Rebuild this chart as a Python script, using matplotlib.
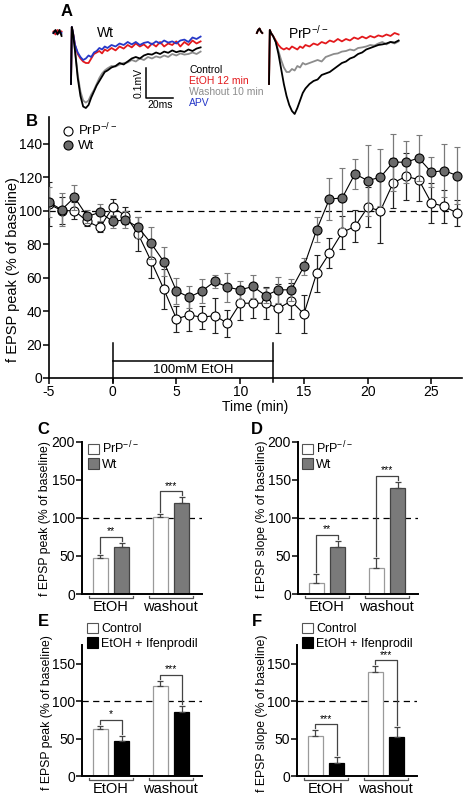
import matplotlib
matplotlib.use("Agg")
import matplotlib.pyplot as plt
from matplotlib.lines import Line2D
from matplotlib.patches import Patch
import numpy as np

plt.rcParams['font.family'] = ['Liberation Sans', 'DejaVu Sans']
plt.rcParams['mathtext.default'] = 'regular'
plt.rcParams['axes.unicode_minus'] = False

W, H = 466, 797
nan = np.nan

# ---------------- A: example traces (ms, mV) ----------------
t_wt = [-13, -11.5, -10, -8.5, -7, -6,
        0, 0.6, 1.5, 3, 5, 7, 9, 11, 13, 15, 17, 19, 21, 23, 25, 27,
        30, 33, 36, 39, 42, 45, 48, 51, 54, 57, 60, 63, 66, 69, 72, 75, 78, 81, 84, 87, 90, 93, 96]
t_prp = [-9, -8, -7, -6, -5, -4,
         0, 0.6, 1.5, 3, 5, 7, 9, 11, 13, 15, 17, 19, 21, 23, 25, 27,
         30, 33, 36, 39, 42, 45, 48, 51, 54, 57, 60, 63, 66, 69, 72, 75, 78, 81, 84, 87, 90, 93, 96]

wt_control = [0.0, 0.01, -0.005, 0.01, -0.01, nan,
              -0.17, 0.02, 0.0, -0.06, -0.15, -0.21, -0.245, -0.25, -0.24, -0.215, -0.195, -0.175, -0.16, -0.145, -0.13, -0.125,
              -0.115, -0.11, -0.1, -0.105, -0.095, -0.085, -0.08, -0.085, -0.075, -0.07, -0.072, -0.065, -0.07, -0.062, -0.066,
              -0.058, -0.064, -0.06, -0.063, -0.055, -0.06, -0.052, -0.048]
wt_washout = [0.0, 0.005, 0.0, 0.01, -0.005, nan,
              -0.17, 0.02, 0.0, -0.06, -0.14, -0.195, -0.225, -0.232, -0.225, -0.205, -0.19, -0.17, -0.15, -0.135, -0.125, -0.118,
              -0.11, -0.112, -0.105, -0.1, -0.098, -0.09, -0.095, -0.085, -0.09, -0.08, -0.085, -0.078, -0.082, -0.075, -0.08,
              -0.07, -0.075, -0.068, -0.072, -0.07, -0.065, -0.07, -0.062]
wt_etoh = [0.005, -0.005, 0.01, 0.0, 0.005, nan,
           -0.17, 0.02, 0.0, -0.04, -0.07, -0.085, -0.095, -0.1, -0.1, -0.085, -0.07, -0.065, -0.06, -0.068, -0.055, -0.06,
           -0.05, -0.058, -0.045, -0.052, -0.04, -0.048, -0.035, -0.045, -0.038, -0.05, -0.035, -0.045, -0.03, -0.045, -0.035,
           -0.04, -0.028, -0.045, -0.03, -0.04, -0.025, -0.035, -0.028]
wt_apv = [0.0, 0.008, -0.003, 0.005, 0.0, nan,
          -0.17, 0.02, 0.0, -0.04, -0.065, -0.08, -0.09, -0.085, -0.075, -0.08, -0.065, -0.06, -0.05, -0.055, -0.045, -0.05,
          -0.04, -0.045, -0.035, -0.04, -0.03, -0.038, -0.03, -0.04, -0.033, -0.03, -0.038, -0.028, -0.035, -0.025, -0.032,
          -0.028, -0.035, -0.025, -0.022, -0.03, -0.015, -0.02, -0.012]

prp_control = [0.0, 0.01, 0.015, 0.005, 0.0, nan,
               -0.17, 0.01, 0.0, -0.01, -0.03, -0.07, -0.12, -0.17, -0.21, -0.24, -0.26, -0.27, -0.25, -0.225, -0.2, -0.185,
               -0.17, -0.16, -0.155, -0.14, -0.135, -0.13, -0.12, -0.11, -0.1, -0.095, -0.085, -0.08, -0.07, -0.065, -0.055,
               -0.05, -0.045, -0.04, -0.038, -0.035, -0.03, -0.032, -0.025]
prp_washout = [0.0, 0.01, 0.015, 0.005, 0.0, nan,
               -0.17, 0.01, 0.0, -0.01, -0.03, -0.06, -0.09, -0.115, -0.13, -0.13, -0.12, -0.125, -0.11, -0.115, -0.1, -0.105,
               -0.1, -0.095, -0.09, -0.095, -0.08, -0.075, -0.07, -0.068, -0.062, -0.06, -0.055, -0.058, -0.05, -0.048, -0.045,
               -0.04, -0.042, -0.035, -0.03, -0.038, -0.03, -0.035, -0.028]
prp_etoh = [0.0, 0.01, 0.015, 0.005, 0.0, nan,
            -0.17, 0.01, 0.0, -0.01, -0.025, -0.04, -0.05, -0.055, -0.05, -0.055, -0.045, -0.05, -0.055, -0.045, -0.05, -0.04,
            -0.045, -0.035, -0.04, -0.03, -0.035, -0.025, -0.03, -0.02, -0.028, -0.02, -0.025, -0.015, -0.02, -0.012, -0.018,
            -0.01, -0.015, -0.008, -0.012, -0.005, -0.01, 0.0, -0.005]

trace_colors = {'Control': 'black', 'EtOH 12 min': '#e3191c',
                'Washout 10 min': '#8c8c8c', 'APV': '#2638c8'}

# ---------------- B: time course ----------------
t_min = [-5, -4, -3, -2, -1, 0, 1, 2, 3, 4, 5, 6, 7, 8, 9, 10, 11, 12, 13, 14, 15, 16,
         17, 18, 19, 20, 21, 22, 23, 24, 25, 26, 27]
wt_peak = [105, 100.6, 108, 96.6, 99, 93.6, 94.6, 90, 80.6, 69.6, 52, 48.3, 52, 57.7, 54.3, 52.7, 54.7,
           49.3, 52.7, 52.7, 66.7, 88.6, 107, 107.6, 122, 118, 120, 129, 129, 131.5, 123, 124, 121]
wt_sem = [9, 10, 7.5, 4, 5, 4, 5, 6.5, 9.4, 8.4, 8, 6.4, 7, 4, 8.7, 5.3, 6.6,
          4.7, 7.6, 6.6, 5, 7.4, 12.6, 18, 9, 21, 17, 17, 12.5, 14, 9, 16, 17]
prp_peak = [104, 100, 100, 93.6, 90, 102, 97, 86, 70, 53.3, 35.3, 37.7, 36.3, 37.3, 32.7, 44.7, 44.7,
            44.7, 41.7, 46, 38.3, 62.7, 74.6, 87, 90.6, 102, 100, 116.6, 120.5, 118.6, 104.6, 102.6, 98.6]
prp_sem = [13, 8, 5, 3, 3, 5, 5, 10, 10, 12, 7.6, 9.4, 7, 10.6, 8, 10, 8.7,
           9.7, 14.6, 11, 11.6, 11, 9, 9.6, 9.6, 12, 19.6, 15, 14, 13, 12, 10, 8]
etoh_on, etoh_off = 0, 12.6

# ---------------- C-F: bar summaries ----------------
groups = ['EtOH', 'washout']
c_prp, c_prp_err = [47.7, 101.5], [3.5, 3.5]
c_wt, c_wt_err = [61.3, 120.0], [6.0, 7.0]
d_prp, d_prp_err = [14.9, 34.6], [11.0, 13.0]
d_wt, d_wt_err = [61.3, 139.6], [8.7, 8.0]
e_ctrl, e_ctrl_err = [63.0, 120.4], [4.0, 6.6]
e_ifen, e_ifen_err = [46.7, 85.8], [6.7, 8.0]
f_ctrl, f_ctrl_err = [53.8, 138.7], [7.5, 8.0]
f_ifen, f_ifen_err = [17.8, 52.4], [8.0, 12.5]
c_stars = ['**', '***']
d_stars = ['**', '***']
e_stars = ['*', '***']
f_stars = ['***', '***']

fig = plt.figure(figsize=(W / 100, H / 100), dpi=100)


def rect(x0, y0, x1, y1):
    # pixel box (top-left origin) -> figure fraction
    return [x0 / W, 1 - y1 / H, (x1 - x0) / W, (y1 - y0) / H]


def ftext(x, y, s, **kw):
    fig.text(x / W, 1 - y / H, s, **kw)


# ---- A
axA1 = fig.add_axes(rect(40, 20, 220, 120))
axA1.set_xlim(-22.96, 110.37)
axA1.set_ylim(-0.29, 0.0433)
axA1.axis('off')
for name, vals in [('Washout 10 min', wt_washout), ('EtOH 12 min', wt_etoh),
                   ('APV', wt_apv), ('Control', wt_control)]:
    axA1.plot(t_wt, vals, color=trace_colors[name], lw=1.3)
# scale bar 20 ms / 0.1 mV
sb_t, sb_v = 55.6, -0.1167
axA1.plot([sb_t, sb_t, sb_t + 20], [sb_v, sb_v - 0.1, sb_v - 0.1], color='k', lw=1.1)

axA2 = fig.add_axes(rect(240, 20, 420, 120))
axA2.set_xlim(-21.48, 111.85)
axA2.set_ylim(-0.29, 0.0433)
axA2.axis('off')
for name, vals in [('Washout 10 min', prp_washout), ('EtOH 12 min', prp_etoh),
                   ('Control', prp_control)]:
    axA2.plot(t_prp, vals, color=trace_colors[name], lw=1.3)

ftext(67, 12, 'A', fontsize=12, fontweight='bold', ha='center', va='center')
ftext(97, 33, 'Wt', fontsize=10, ha='left', va='center')
ftext(288, 33, 'PrP$^{-/-}$', fontsize=10, ha='left', va='center')
ftext(139, 83, '0.1mV', fontsize=7.5, rotation=90, ha='center', va='center')
ftext(160, 105, '20ms', fontsize=7.5, ha='center', va='center')
for i, name in enumerate(trace_colors):
    ftext(189, 70 + i * 11, name, fontsize=7.5, color=trace_colors[name], ha='left', va='center')

# ---- B
axB = fig.add_axes(rect(49, 117, 462, 378))
axB.axhline(100, color='k', ls=(0, (5, 3.5)), lw=0.9, zorder=0)
axB.errorbar(t_min, prp_peak, yerr=prp_sem, fmt='-o', color='k', lw=0.8, ms=6.5,
             mfc='white', mec='k', mew=0.8, ecolor='#222222', elinewidth=0.9,
             capsize=2.5, capthick=0.9, zorder=3)
axB.errorbar(t_min, wt_peak, yerr=wt_sem, fmt='-o', color='k', lw=0.8, ms=6.5,
             mfc='#6b6b6b', mec='k', mew=0.8, ecolor='#7a7a7a', elinewidth=0.9,
             capsize=2.5, capthick=0.9, zorder=4)
axB.set_xlim(-5, 27.4)
axB.set_ylim(0, 156)
axB.set_xticks([-5, 0, 5, 10, 15, 20, 25])
axB.set_yticks([0, 20, 40, 60, 80, 100, 120, 140])
for s in ['top', 'right']:
    axB.spines[s].set_visible(False)
for s in ['left', 'bottom']:
    axB.spines[s].set_linewidth(1.2)
axB.tick_params(labelsize=10, width=1.1, length=4, pad=1)
axB.set_xlabel('Time (min)', fontsize=10, labelpad=1)
ftext(13, 270, 'f EPSP peak (% of baseline)', fontsize=10.5, rotation=90, ha='center', va='center')
# ethanol application bar
axB.plot([etoh_on, etoh_on], [-2.5, 21], color='k', lw=1.1, clip_on=False)
axB.plot([etoh_off, etoh_off], [-2.5, 21], color='k', lw=1.1, clip_on=False)
axB.plot([etoh_on, etoh_off], [10, 10], color='k', lw=1.1)
axB.text((etoh_on + etoh_off) / 2, 4.5, '100mM EtOH', fontsize=9.5, ha='center', va='center')
handlesB = [Line2D([], [], ls='none', marker='o', ms=6.5, mfc='white', mec='k', mew=0.8),
            Line2D([], [], ls='none', marker='o', ms=6.5, mfc='#6b6b6b', mec='k', mew=0.8)]
axB.legend(handlesB, ['PrP$^{-/-}$', 'Wt'], loc='upper left', bbox_to_anchor=(63 / W, 1 - 122 / H),
           bbox_transform=fig.transFigure, frameon=False, fontsize=9.5, handlelength=0.8,
           handletextpad=0.3, labelspacing=0.1, borderpad=0, borderaxespad=0)
ftext(32, 122, 'B', fontsize=12, fontweight='bold', ha='center', va='center')


# ---- C-F
def bar_panel(box, a, a_err, b, b_err, col_b, edge_b, stars, ymax, yticks,
              ylabel, ylabel_xy, leg_labels, leg_xy, letter, letter_xy):
    ax = fig.add_axes(rect(*box))
    ppu = (box[3] - box[1]) / ymax   # pixels per data unit
    x = np.arange(len(groups))
    off, w = 0.18, 0.25
    ax.axhline(100, color='k', ls=(0, (5, 3.5)), lw=0.9, zorder=1)
    ax.bar(x - off, a, w, color='white', edgecolor='#9a9a9a', lw=0.9, zorder=2)
    ax.bar(x + off, b, w, color=col_b, edgecolor=edge_b, lw=0.9, zorder=2)
    ax.errorbar(x - off, a, yerr=[[0] * len(a), a_err], fmt='none', ecolor='#444444',
                elinewidth=0.9, capsize=2.5, capthick=0.9, zorder=3)
    ax.errorbar(x + off, b, yerr=[[0] * len(b), b_err], fmt='none', ecolor='#444444',
                elinewidth=0.9, capsize=2.5, capthick=0.9, zorder=3)
    for i in range(len(groups)):
        ta = a[i] + a_err[i] + 2 / ppu
        tb = b[i] + b_err[i] + 2 / ppu
        top = max(ta, tb) + 4 / ppu
        ax.plot([i - off, i - off, i + off, i + off], [ta, top, top, tb], color='#444444', lw=0.9)
        ax.text(i, top + 0.5 / ppu, stars[i], ha='center', va='bottom', fontsize=7.5)
        # group bracket below axis
        ax.plot([i - 0.37, i - 0.37, i + 0.37, i + 0.37],
                [-2 / ppu, -4 / ppu, -4 / ppu, -2 / ppu], color='#555555', lw=0.9, clip_on=False)
        ax.text(i, -13 / ppu, groups[i], ha='center', va='center', fontsize=10.5)
    ax.set_xlim(-0.48, 1.52)
    ax.set_ylim(0, ymax)
    ax.set_yticks(yticks)
    ax.set_xticks([])
    for s in ['top', 'right']:
        ax.spines[s].set_visible(False)
    for s in ['left', 'bottom']:
        ax.spines[s].set_linewidth(1.4)
    ax.tick_params(labelsize=10, width=1.1, length=4, pad=1)
    ftext(ylabel_xy[0], ylabel_xy[1], ylabel, fontsize=8.8, rotation=90, ha='center', va='center')
    handles = [Patch(facecolor='white', edgecolor='#555555', lw=0.8),
               Patch(facecolor=col_b, edgecolor=edge_b, lw=0.8)]
    ax.legend(handles, leg_labels, loc='upper left', bbox_to_anchor=(leg_xy[0] / W, 1 - leg_xy[1] / H),
              bbox_transform=fig.transFigure, frameon=False, fontsize=9, handlelength=0.9,
              handleheight=0.9, handletextpad=0.25, labelspacing=0.15, borderpad=0, borderaxespad=0)
    ftext(letter_xy[0], letter_xy[1], letter, fontsize=12, fontweight='bold', ha='center', va='center')
    return ax


bar_panel((82, 441.7, 202, 594), c_prp, c_prp_err, c_wt, c_wt_err, '#7a7a7a', '#444444',
          c_stars, 200, [0, 50, 100, 150, 200], 'f EPSP peak (% of baseline)', (45, 519),
          ['PrP$^{-/-}$', 'Wt'], (88, 440), 'C', (43, 430))
bar_panel((298, 441.7, 418, 594), d_prp, d_prp_err, d_wt, d_wt_err, '#7a7a7a', '#444444',
          d_stars, 200, [0, 50, 100, 150, 200], 'f EPSP slope (% of baseline)', (262, 519),
          ['PrP$^{-/-}$', 'Wt'], (302, 440), 'D', (257, 430))
bar_panel((82, 645, 202, 776), e_ctrl, e_ctrl_err, e_ifen, e_ifen_err, 'black', 'black',
          e_stars, 175, [0, 50, 100, 150], 'f EPSP peak (% of baseline)', (47, 713),
          ['Control', 'EtOH + Ifenprodil'], (87, 623), 'E', (43, 621))
bar_panel((297, 645, 417, 776), f_ctrl, f_ctrl_err, f_ifen, f_ifen_err, 'black', 'black',
          f_stars, 175, [0, 50, 100, 150], 'f EPSP slope (% of baseline)', (262, 713),
          ['Control', 'EtOH + Ifenprodil'], (302, 623), 'F', (257, 621))

fig.savefig('out.png', dpi=100)
